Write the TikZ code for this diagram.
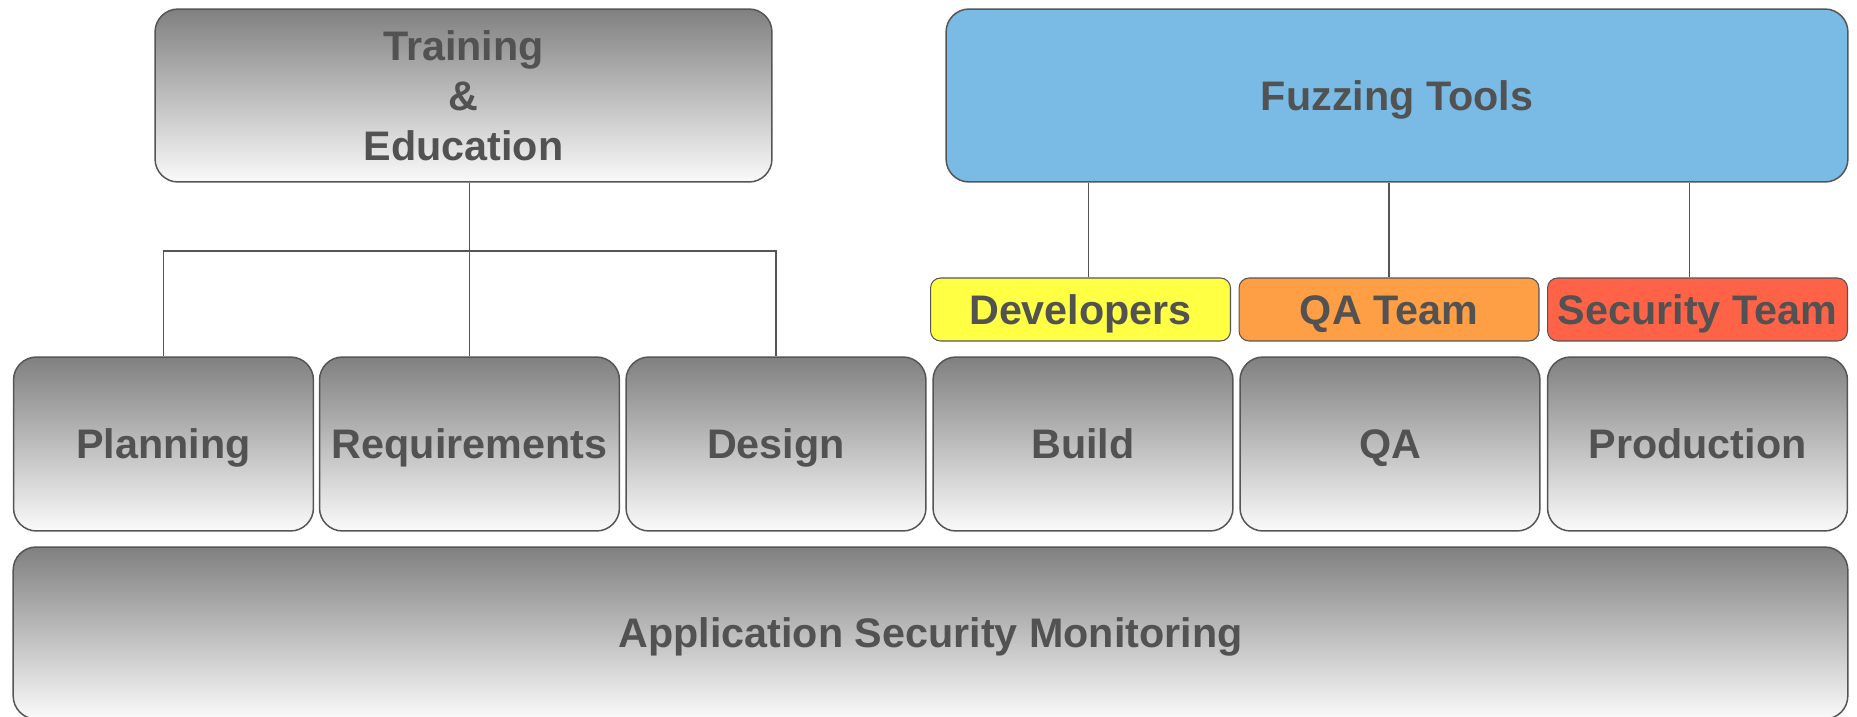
\documentclass[tikz,border=0pt]{standalone}
\usepackage{fontspec}
\setmainfont{Liberation Sans}
\usepackage{tikz}
\definecolor{txtgray}{RGB}{82,82,82}
\definecolor{edgegray}{RGB}{85,85,85}
\definecolor{boxtop}{RGB}{128,128,128}
\definecolor{boxbot}{RGB}{250,250,250}
\definecolor{fuzzblue}{RGB}{122,187,229}
\definecolor{devyellow}{RGB}{255,255,68}
\definecolor{qaorange}{RGB}{255,159,69}
\definecolor{secred}{RGB}{255,99,71}
\tikzstyle{lbl}=[text=txtgray,font=\fontsize{23.5}{28.5}\selectfont\bfseries,align=center,inner sep=0pt,text height=16.8pt,text depth=0pt]
\tikzstyle{gbox}=[lbl,shape=rectangle,draw=edgegray,line width=0.85pt,rounded corners=0.46cm,top color=boxtop,bottom color=boxbot]
\tikzstyle{phase}=[gbox,minimum width=6cm,minimum height=3.48cm]
\tikzstyle{team}=[lbl,shape=rectangle,draw=edgegray,line width=0.6pt,rounded corners=0.2cm,minimum width=6cm,minimum height=1.26cm]
\tikzstyle{link}=[draw=edgegray,line width=0.6pt]

\begin{document}
\begin{tikzpicture}[x=0.02cm,y=-0.02cm]
            \useasboundingbox (0,0) rectangle (1857,717);
            % top row
            \node[gbox, text height=, text depth=, minimum width=12.34cm, minimum height=3.46cm] (train) at (463.5, 95.5) {Training\\\&\\Education};
            \node[gbox, minimum width=18.04cm, minimum height=3.46cm, fill=fuzzblue, top color=fuzzblue, bottom color=fuzzblue] (fuzz) at (1397, 95.5) {Fuzzing Tools};
            % teams
            \node[team, fill=devyellow] (dev) at (1080.5, 309.5) {Developers};
            \node[team, fill=qaorange] (qateam) at (1389, 309.5) {QA Team};
            \node[team, fill=secred] (secteam) at (1697.5, 309.5) {Security Team};
            % phases
            \node[phase] (plan) at (163.5, 444) {Planning};
            \node[phase] (req) at (469.5, 444) {Requirements};
            \node[phase] (design) at (776, 444) {Design};
            \node[phase] (build) at (1083, 444) {Build};
            \node[phase] (qa) at (1390, 444) {QA};
            \node[phase] (prod) at (1697.5, 444) {Production};
            % monitoring
            \node[gbox, minimum width=36.7cm, minimum height=3.44cm] (asm) at (930.5, 633) {Application Security Monitoring};
            % connectors
            \coordinate (bar) at (469.5, 251);
            \draw[link] (req.north |- train.south) -- (req.north);
            \draw[link] (plan.north) |- (bar) -| (design.north);
            \draw[link] ([xshift=0.16cm]dev.north) -- ([xshift=0.16cm]dev.north |- fuzz.south);
            \draw[link] (qateam.north) -- (qateam.north |- fuzz.south);
            \draw[link] ([xshift=-0.16cm]secteam.north) -- ([xshift=-0.16cm]secteam.north |- fuzz.south);
        \end{tikzpicture}
\end{document}
